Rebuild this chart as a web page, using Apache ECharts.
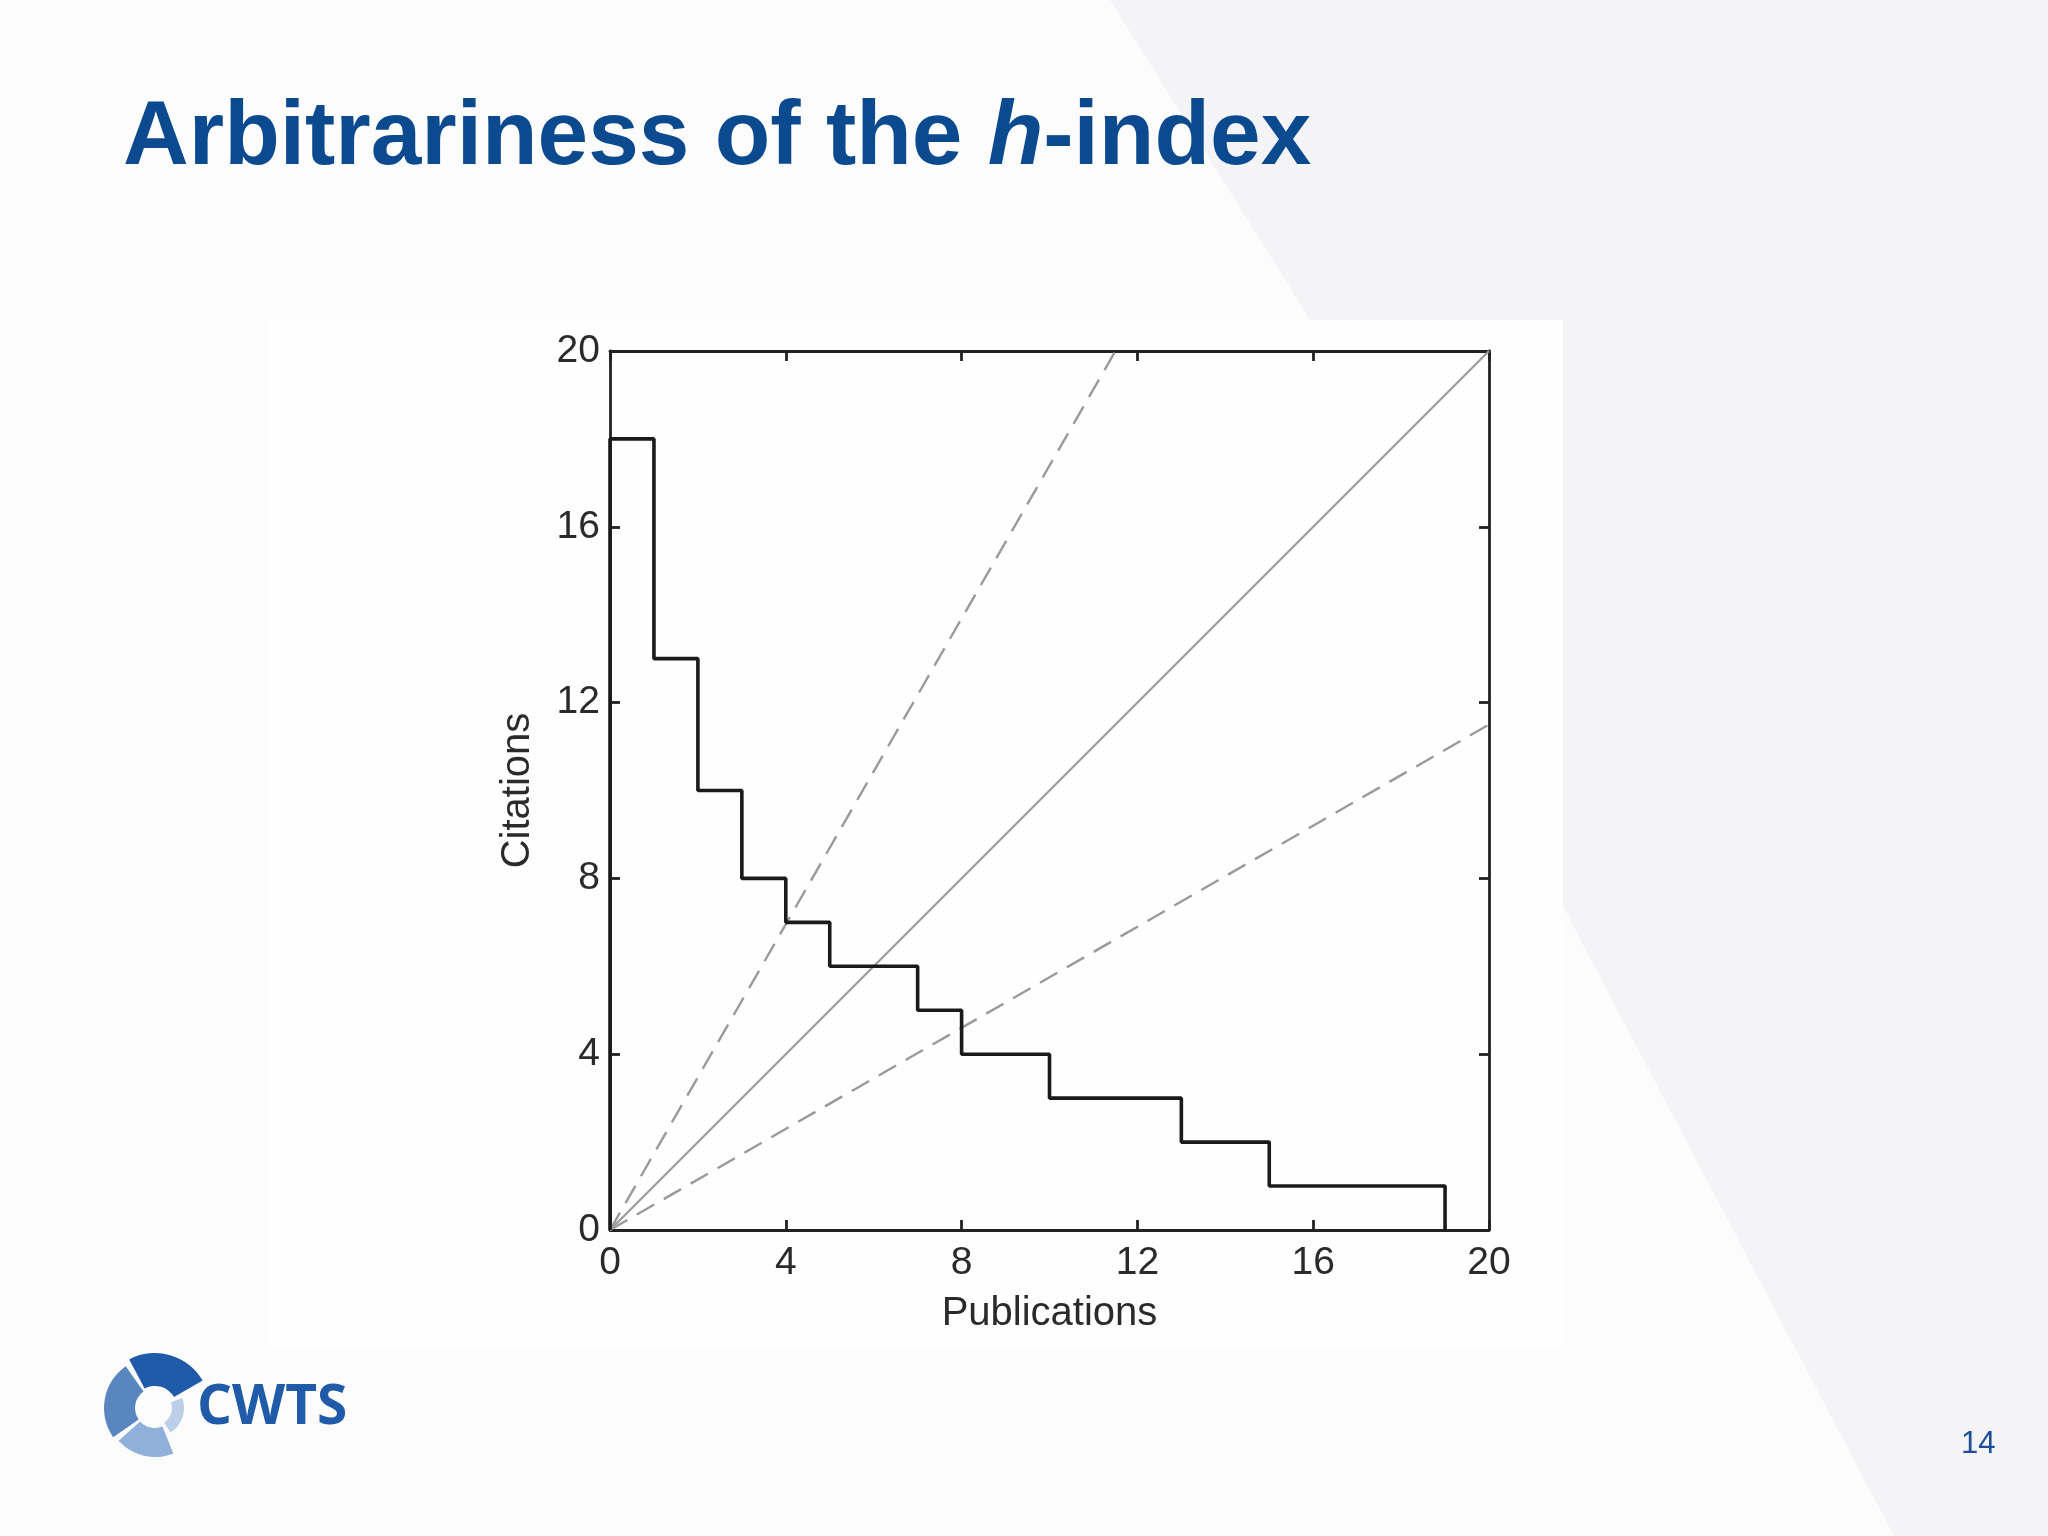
<!DOCTYPE html>
<html>
<head>
<meta charset="utf-8">
<script src="https://cdn.jsdelivr.net/npm/echarts@6/dist/echarts.min.js"></script>
<style>
html,body{margin:0;padding:0;background:#fcfcfd;}
#chart{width:2048px;height:1536px;}
</style>
</head>
<body>
<div id="chart"></div>
<script>
// ---- data ----
const paperStart = [0,1,2,3,4,5,6,7,8,9,10,11,12,13,14,15,16,17,18];
const citations  = [18,13,10,8,7,6,6,5,4,4,3,3,3,2,2,1,1,1,1];
const lastEdge = 19;
const identityLine = [[0,0],[20,20]];
const steepLine = [[0,0],[11.5,20]];
const shallowLine = [[0,0],[20,11.5]];
const axisMin = 0, axisMax = 20, axisStep = 4;

const stepData = paperStart.map((x,i)=>[x, citations[i]]);
stepData.unshift([0,0]);
stepData.push([lastEdge,0]);

const chart = echarts.init(document.getElementById('chart'), null, {renderer:'canvas'});
const deg = Math.PI/180;
const blue = '#0b4a8f';
const axisCol = '#222';
const labelFont = 'Liberation Sans, Arial, sans-serif';

function baseAxis(extra){
  return Object.assign({
    type:'value', min:axisMin, max:axisMax, interval:axisStep,
    axisLine:{show:true, onZero:false, lineStyle:{color:axisCol, width:2.8}},
    axisTick:{show:true, inside:true, length:10, lineStyle:{color:axisCol, width:2.8}},
    splitLine:{show:false},
    axisLabel:{show:false}
  }, extra);
}

const option = {
  animation:false,
  backgroundColor:'#fcfcfd',
  title:{
    left:123, top:93, padding:0,
    text:'{a|Arbitrariness of the }{b|h}{a|-index}',
    textStyle:{
      rich:{
        a:{fontFamily:labelFont, fontWeight:'bold', fontSize:91, color:blue},
        b:{fontFamily:labelFont, fontWeight:'bold', fontStyle:'italic', fontSize:91, color:blue}
      }
    }
  },
  graphic:[
    {type:'polygon', z:-10, shape:{points:[[1110,0],[2048,0],[2048,1536],[1894,1536],[1567,914],[1306,313]]}, style:{fill:'#f4f4f7'}},
    {type:'rect', z:-9, shape:{x:268,y:320,width:1295,height:1028}, style:{fill:'#fefefe'}},
    {type:'sector', shape:{cx:155,cy:1408,r:55,r0:22,startAngle:-118*deg,endAngle:-30*deg}, style:{fill:'#1f5ba8'}},
    {type:'sector', shape:{cx:155,cy:1408,r:51,r0:20,startAngle:-215*deg,endAngle:-125*deg}, style:{fill:'#5a86c0'}},
    {type:'sector', shape:{cx:155,cy:1408,r:49,r0:20,startAngle:-292*deg,endAngle:-222*deg}, style:{fill:'#8fb0d8'}},
    {type:'sector', shape:{cx:155,cy:1408,r:29,r0:17,startAngle:-20*deg,endAngle:58*deg}, style:{fill:'#bccfe8'}},
    {type:'text', left:197, top:1381, style:{text:'CWTS', fill:'#1f5ba8', font:'bold 55px "Open Sans", sans-serif'}},
    {type:'text', left:1961, top:1429, style:{text:'14', fill:'#1f4e96', font:'31px "Liberation Sans", Arial, sans-serif'}}
  ],
  grid:{left:610, top:351, width:879, height:879},
  xAxis:[
    baseAxis({
      position:'bottom',
      axisLabel:{show:true, fontSize:39, color:'#2a2a2a', fontFamily:labelFont, margin:14},
      name:'Publications', nameLocation:'middle', nameGap:64,
      nameTextStyle:{fontSize:40, color:'#2a2a2a', fontFamily:labelFont}
    }),
    baseAxis({position:'top'})
  ],
  yAxis:[
    baseAxis({
      position:'left',
      axisLabel:{show:true, fontSize:39, color:'#2a2a2a', fontFamily:labelFont, margin:10},
      name:'Citations', nameLocation:'middle', nameGap:72,
      nameTextStyle:{fontSize:40, color:'#2a2a2a', fontFamily:labelFont}
    }),
    baseAxis({position:'right'})
  ],
  series:[
    {type:'line', data:identityLine, symbol:'none', lineStyle:{color:'#9a9a9a', width:2.2}, z:2},
    {type:'line', data:steepLine, symbol:'none', lineStyle:{color:'#9a9a9a', width:2.4, type:[20,11]}, z:2},
    {type:'line', data:shallowLine, symbol:'none', lineStyle:{color:'#9a9a9a', width:2.4, type:[20,11]}, z:2},
    {type:'line', data:stepData, step:'end', symbol:'none', lineStyle:{color:'#1a1a1a', width:3.6}, z:3}
  ]
};
chart.setOption(option);
</script>
</body>
</html>
